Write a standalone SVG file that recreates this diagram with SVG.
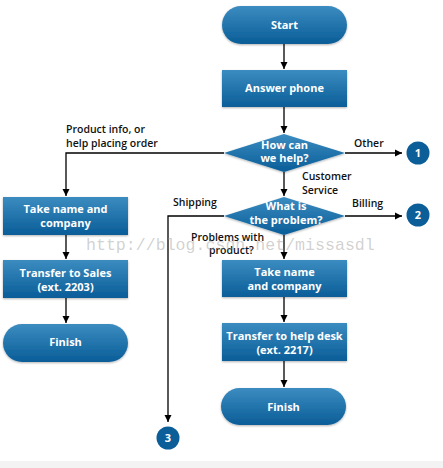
<svg xmlns="http://www.w3.org/2000/svg" width="443" height="468" viewBox="0 0 443 468">
<defs>
<linearGradient id="g" x1="0" y1="0" x2="0" y2="1">
<stop offset="0" stop-color="#3b8cc0"/>
<stop offset="1" stop-color="#0a5d98"/>
</linearGradient>
<marker id="a" markerWidth="8" markerHeight="8" refX="7" refY="4" orient="auto" markerUnits="userSpaceOnUse">
<path d="M0,0.5 L7,4 L0,7.5 Z" fill="#000"/>
</marker>
<filter id="s" x="-10%" y="-10%" width="120%" height="130%">
<feDropShadow dx="0" dy="1" stdDeviation="0.8" flood-color="#000" flood-opacity="0.3"/>
</filter>
</defs>
<style>
.n{fill:url(#g);filter:url(#s)}
.t{font-family:"Open Sans","Noto Sans",sans-serif;font-weight:bold;font-size:11px;fill:#fff;text-anchor:middle}
.l{font-family:"Open Sans","Noto Sans",sans-serif;font-weight:600;font-size:10.5px;fill:#111}
.c{fill:#0b5e98}
.e{stroke:#000;stroke-width:1.3;fill:none;marker-end:url(#a)}
</style>
<rect width="443" height="468" fill="#fff"/>
<rect y="461" width="443" height="7" fill="#f3f3f3"/>
<g id="connectors">
<path class="e" d="M284,44 V69"/>
<path class="e" d="M284,107 V133"/>
<path class="e" d="M224,153 H66 V196"/>
<path class="e" d="M345,153 H402"/>
<path class="e" d="M284,172 V196"/>
<path class="e" d="M224,216 H168 V422"/>
<path class="e" d="M345,216 H402"/>
<path class="e" d="M284,235 V259"/>
<path class="e" d="M284,297 V322"/>
<path class="e" d="M284,361 V387"/>
<path class="e" d="M66,235 V259"/>
<path class="e" d="M66,298 V323"/>
</g>
<g id="start"><rect class="n" x="222" y="6" width="125" height="38" rx="19"/><text class="t" x="284.5" y="29">Start</text></g>
<g id="answer"><rect class="n" x="222" y="70" width="125" height="37"/><text class="t" x="284.5" y="92">Answer phone</text></g>
<g id="how"><polygon class="n" points="284,134 345,153 284,172 224,153"/><text class="t" x="284.5" y="149">How can</text><text class="t" x="284.5" y="162">we help?</text></g>
<g id="what"><polygon class="n" points="284,197 345,216 284,235 224,216"/><text class="t" x="286" y="210">What is</text><text class="t" x="286" y="224">the problem?</text></g>
<g id="takeL"><rect class="n" x="3" y="197" width="125" height="38"/><text class="t" x="65.5" y="213">Take name and</text><text class="t" x="65.5" y="227">company</text></g>
<g id="sales"><rect class="n" x="3" y="260" width="125" height="38"/><text class="t" x="65.5" y="277">Transfer to Sales</text><text class="t" x="65.5" y="291">(ext. 2203)</text></g>
<g id="finishL"><rect class="n" x="3" y="324" width="125" height="38" rx="19"/><text class="t" x="65.5" y="346">Finish</text></g>
<g id="takeR"><rect class="n" x="222" y="260" width="125" height="37"/><text class="t" x="284.5" y="276">Take name</text><text class="t" x="284.5" y="290">and company</text></g>
<g id="help"><rect class="n" x="222" y="323" width="125" height="38"/><text class="t" x="284.5" y="340">Transfer to help desk</text><text class="t" x="284.5" y="354">(ext. 2217)</text></g>
<g id="finishR"><rect class="n" x="221" y="388" width="125" height="37" rx="18.5"/><text class="t" x="283.5" y="411">Finish</text></g>
<g id="c1"><circle class="c" cx="418" cy="153" r="11.5"/><text class="t" x="418" y="157">1</text></g>
<g id="c2"><circle class="c" cx="418" cy="215" r="11.5"/><text class="t" x="418" y="219">2</text></g>
<g id="c3"><circle class="c" cx="168" cy="438" r="11.5"/><text class="t" x="168" y="442">3</text></g>
<g id="labels">
<text class="l" x="66" y="133">Product info, or</text>
<text class="l" x="66" y="147">help placing order</text>
<text class="l" x="354" y="147">Other</text>
<text class="l" x="302" y="180">Customer</text>
<text class="l" x="302" y="194">Service</text>
<text class="l" x="173" y="206">Shipping</text>
<text class="l" x="352" y="207">Billing</text>
<text class="l" x="191" y="241">Problems with</text>
<text class="l" x="209" y="254">product?</text>
</g>
<text x="86" y="250" font-family="Liberation Mono, monospace" font-size="16.6" fill="#999" fill-opacity="0.45">http://blog.csdn.net/missasdl</text>
</svg>
